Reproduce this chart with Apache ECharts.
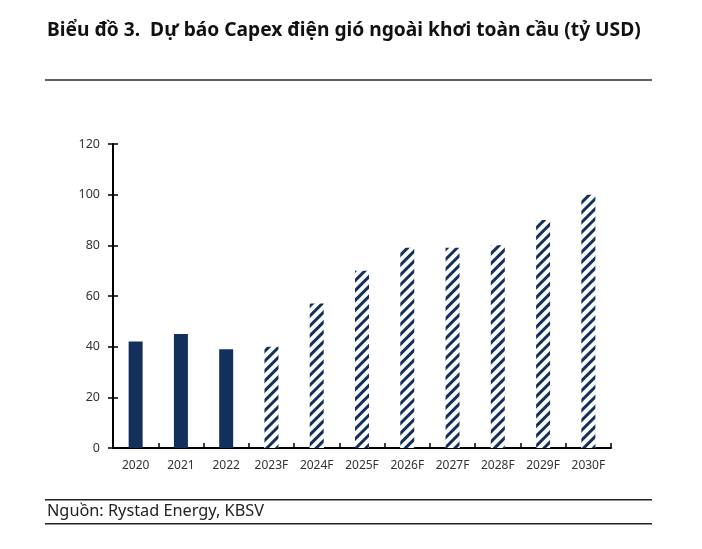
<!DOCTYPE html>
<html>
<head>
<meta charset="utf-8">
<script src="https://cdn.jsdelivr.net/npm/echarts@6/dist/echarts.min.js"></script>
<style>
html,body{margin:0;padding:0;background:#fff;}
#c{width:702px;height:549px;}
</style>
</head>
<body>
<div id="c"></div>
<script>
const categories = ['2020','2021','2022','2023F','2024F','2025F','2026F','2027F','2028F','2029F','2030F'];
const actualValues = [42, 45, 39, null, null, null, null, null, null, null, null];
const forecastValues = [null, null, null, 40, 57, 70, 79, 79, 80, 90, 100];
const yTicks = [0, 20, 40, 60, 80, 100, 120];
const titleText = 'Biểu đồ 3.  Dự báo Capex điện gió ngoài khơi toàn cầu (tỷ USD)';
const sourceText = 'Nguồn: Rystad Energy, KBSV';

const navy = '#132f5b';
const chart = echarts.init(document.getElementById('c'), null, {renderer:'canvas'});
const grid = {left:113, right:91, top:144, bottom:101};
chart.setOption({
  backgroundColor:'#fff',
  animation:false,
  grid: grid,
  xAxis: {
    type:'category', data:categories,
    axisLine:{lineStyle:{color:'#000', width:2}},
    axisTick:{show:true, inside:true, length:5, lineStyle:{color:'#000', width:1.5}},
    axisLabel:{interval:0, hideOverlap:false, color:'#333', fontFamily:'Noto Sans', fontSize:12, margin:12}
  },
  yAxis: [{
    type:'value', min:yTicks[0], max:yTicks[yTicks.length-1], interval:20,
    splitLine:{show:false},
    axisLine:{show:true, lineStyle:{color:'#000', width:2}},
    axisTick:{show:true, length:5, lineStyle:{color:'#000', width:1.5}},
    axisLabel:{color:'#333', fontFamily:'Noto Sans', fontSize:12.5, margin:13}
  },{
    type:'value', position:'left', min:yTicks[0], max:yTicks[yTicks.length-1], interval:20,
    splitLine:{show:false},
    axisLine:{show:false},
    axisTick:{show:true, inside:true, length:5, lineStyle:{color:'#000', width:1.5}},
    axisLabel:{show:false}
  }],
  series: [{
    type:'bar', data:actualValues, barWidth:14, barGap:'-100%',
    itemStyle:{color:navy}
  },{
    type:'bar', data:forecastValues, barWidth:14, barGap:'-100%',
    itemStyle:{
      color:'#fff',
      decal:{symbol:'rect', symbolSize:1, dashArrayX:[1,0], dashArrayY:[3,3.4], rotation:-Math.PI/4, color:navy, backgroundColor:'#fff'}
    }
  }],
  graphic: [
    {type:'text', left:47, top:21, style:{text:titleText, font:'bold 19.2px "Noto Sans"', fill:'#111'}},
    {type:'rect', shape:{x:45, y:79, width:607, height:2}, style:{fill:'#606060'}},
    {type:'rect', shape:{x:45, y:499, width:607, height:1.5}, style:{fill:'#222'}},
    {type:'text', left:47, top:503, style:{text:sourceText, font:'16.3px "Noto Sans"', fill:'#222'}},
    {type:'rect', shape:{x:45, y:523, width:607, height:1.5}, style:{fill:'#222'}}
  ]
});
</script>
</body>
</html>
